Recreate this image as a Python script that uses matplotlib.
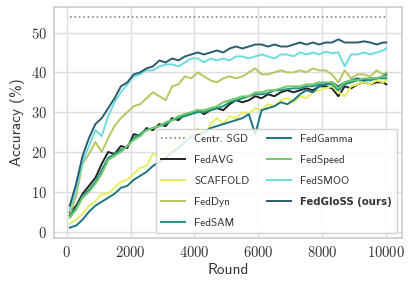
import matplotlib
matplotlib.use("Agg")
import matplotlib.pyplot as plt

# Rounds (x) and accuracy (%) per method
rounds = list(range(100, 10000, 200)) + [10000]

centr_sgd = 53.8

fedavg = [4.8, 6.5, 9.5, 11.5, 13.5, 17, 20, 19.5, 21.5, 21, 
          24.5, 24, 26, 25.5, 27, 26.5, 28.5, 28, 29.5, 29.8,
          30.5, 29.5, 30.5, 31, 30.5, 32, 33, 32.5, 33, 34,
          33.5, 34.5, 34, 35, 35.5, 35, 35.5, 36, 35.5, 36.5,
          36.5, 36, 34, 36.5, 36, 37, 37.5, 37, 37.5, 37.5, 37]
scaffold = [2, 3, 4.5, 6.5, 7.5, 9.5, 9.5, 11, 12.5, 13,
            14.5, 16, 16.5, 19.5, 19, 21, 21.5, 23, 25, 23.5,
            26, 23.5, 27, 28.5, 27, 29, 28.5, 30, 29.5, 31,
            30.5, 32, 31.5, 33, 33.5, 32.5, 34, 33.5, 35, 35.5,
            36, 36.5, 35, 34, 36.5, 37, 37.5, 37, 38, 37.5, 38]
feddyn = [4.2, 9, 17, 19.5, 22.5, 20, 23.5, 26.5, 28.5, 30,
          31.5, 32, 33.5, 35, 34, 33, 36.5, 37, 39, 38.5,
          40, 39, 38, 37.5, 38.5, 39, 38.5, 39, 40, 41,
          39.5, 39.5, 40, 40.5, 40, 40, 40.5, 40, 41, 40.5,
          40.5, 39.5, 37.5, 40.5, 38.5, 39.5, 39.5, 39, 40.5, 39.5, 40]
fedsam = [4, 6, 9, 10.5, 12.5, 15.5, 18.5, 19.5, 20.5, 21.5,
          23.5, 24.5, 25.5, 26, 26.5, 27, 28, 28.5, 29, 29.5,
          30, 30, 30.5, 31, 31.5, 32.5, 33, 33.5, 34, 34.5,
          34.5, 34.8, 35.5, 35.5, 35.8, 36, 36, 36.5, 36.5, 37,
          37, 37, 35.5, 37, 37.5, 38, 38, 38, 38.5, 38.5, 38.5]
fedgamma = [1, 1.5, 3, 5, 6.5, 7.5, 8.5, 9.5, 11, 11.5,
            13, 14, 15, 16.5, 17.5, 18.5, 20, 21, 22.5, 24,
            24.5, 25, 26, 26.5, 27, 27.5, 28, 28.5, 29.5, 24.5,
            30.5, 31, 31.5, 32.5, 32, 33, 34.5, 35.5, 35, 36.5,
            37, 37.5, 36.5, 37.5, 38, 38.5, 38, 38.5, 38.5, 39, 39.5]
fedspeed = [3.5, 5.5, 8.5, 10, 12, 14.5, 18, 19, 20, 21.5,
            23, 24, 25.5, 26, 26.5, 27.5, 28, 29, 29.5, 30,
            30.5, 30.5, 31, 31.5, 32.5, 33, 33.5, 34, 34, 35,
            35, 35.5, 35.5, 36, 36.5, 36.5, 36.5, 37, 37, 37.5,
            37.5, 37.5, 36, 37.5, 38, 38, 38.5, 38.5, 38.5, 39, 39]
fedsmoo = [5.5, 10.5, 17.5, 21.5, 25.5, 24, 29, 32.5, 35, 37,
           39, 39.5, 40.5, 40.5, 41.5, 42, 42, 41.5, 42.5, 43.5,
           43.5, 42.5, 43.5, 43, 43.5, 43, 44, 44, 43.5, 44,
           44.5, 44, 43.5, 44.5, 44.5, 44, 45, 44.5, 45, 44.5,
           45.2, 44.8, 45, 41.5, 44.5, 44.5, 45, 44.5, 45, 45.5, 46]
fedgloss = [6.5, 12, 19, 23.5, 27, 28.5, 31, 33.5, 36.5, 37.5,
            39.5, 40, 41, 41.5, 43, 42.5, 43.5, 43, 44, 44.5,
            45, 44.5, 45, 45.5, 45, 46, 46.5, 46, 46.5, 47,
            47, 46.5, 47, 46.5, 46.5, 47, 47.5, 47, 47.5, 47,
            47.5, 47.5, 48.3, 47.5, 47.5, 47.5, 47.8, 47.5, 47, 47.5, 47.5]

methods = ["FedAVG", "SCAFFOLD", "FedDyn", "FedSAM",
           "FedGamma", "FedSpeed", "FedSMOO", "FedGloSS (ours)"]
series = [fedavg, scaffold, feddyn, fedsam, fedgamma, fedspeed, fedsmoo, fedgloss]
colors = ["#222222", "#e6ef5e", "#b7c562", "#1d9680",
          "#1b7680", "#74c96b", "#6cdcdc", "#2b5b6f"]

plt.rcParams["axes.formatter.use_mathtext"] = True
plt.rcParams["axes.edgecolor"] = "#cccccc"
plt.rcParams["axes.linewidth"] = 1.2

fig = plt.figure(figsize=(4.15, 2.89), dpi=100)
ax = fig.add_axes([0.130, 0.176, 0.839, 0.800])

ax.plot([rounds[0], rounds[-1]], [centr_sgd, centr_sgd], ls=":", color="#888888",
        lw=1.2, label="Centr. SGD")
for name, vals, c in zip(methods, series, colors):
    ax.plot(rounds, vals, color=c, lw=1.4, label=name)

ax.grid(True, color="#dddddd", lw=1.0)
ax.set_axisbelow(True)
ax.tick_params(length=0, pad=5, labelsize=10.5, labelcolor="#333333")
ax.set_xticks([0, 2000, 4000, 6000, 8000, 10000])
ax.set_yticks([0, 10, 20, 30, 40, 50])
for lab in ax.get_xticklabels() + ax.get_yticklabels():
    lab.set_family("cmr10")

ax.set_xlabel("Round", family="cmss10", fontsize=11, color="#333333", labelpad=2)
ax.set_ylabel("Accuracy (%)", family="cmss10", fontsize=11, color="#333333", labelpad=4)

leg = ax.legend(ncol=2, loc="lower right", prop={"family": "cmss10", "size": 8},
                columnspacing=1.6, handlelength=2.2, labelspacing=1.0,
                edgecolor="#cccccc", framealpha=0.85, fancybox=False)
for t in leg.get_texts():
    t.set_color("#333333")
last = leg.get_texts()[-1]
last.set_family("DejaVu Sans")
last.set_fontweight("bold")
last.set_fontsize(7.3)

fig.savefig("out.png", dpi=100)
